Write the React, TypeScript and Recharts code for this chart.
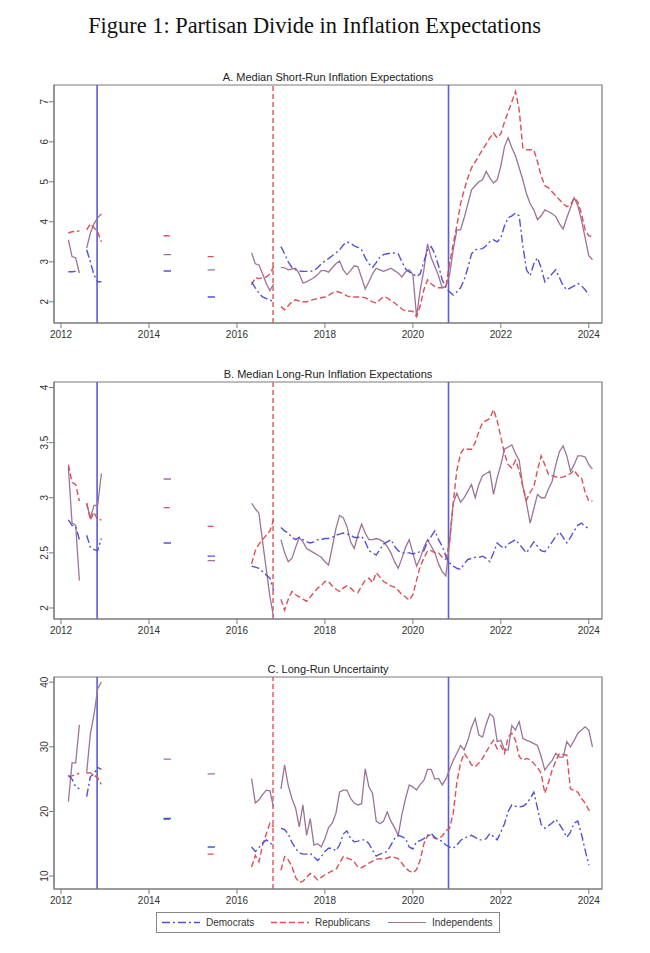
import React from 'react';
import { LineChart, Line, XAxis, YAxis, ReferenceLine, ReferenceArea } from 'recharts';

// ---------- time grids (decimal years) ----------
const T_2012 = [2012.167, 2012.25, 2012.333, 2012.417, 2012.5, 2012.583, 2012.667, 2012.75, 2012.833, 2012.917];
const T_2014 = [2014.333, 2014.5];
const T_2015 = [2015.333, 2015.5];
const T_2016 = [2016.333, 2016.417, 2016.5, 2016.583, 2016.667, 2016.75, 2016.833];
const T_MAIN = Array.from({ length: 86 }, (_, i) => 2017 + i / 12); // Jan 2017 .. Feb 2024

const X_TICKS = [2012, 2014, 2016, 2018, 2020, 2022, 2024];
const ELECTIONS = [2012.82, 2016.82, 2020.81];

// ---------- Panel A: median short-run expectations ----------
const A_DEM = {
  s2012: [2.75, 2.75, 2.76, null, null, 3.3, 3.0, 2.67, 2.5, 2.5],
  s2014: [2.77, 2.77],
  s2015: [2.12, 2.12],
  s2016: [2.5, 2.35, 2.22, 2.12, 2.08, 2.04, 2.01],
  main: [
    3.38, 3.2, 3.0, 2.86, 2.8, 2.77, 2.76, 2.76, 2.76, 2.78,
    2.85, 2.95, 3.02, 3.08, 3.15, 3.22, 3.3, 3.42, 3.5, 3.46,
    3.4, 3.36, 3.3, 3.1, 2.95, 2.86, 2.98, 3.12, 3.18, 3.2,
    3.22, 3.22, 3.2, 3.0, 2.82, 2.75, 2.7, 2.63, 2.7, 3.0,
    3.3, 3.38, 3.2, 2.9, 2.55, 2.35, 2.25, 2.17, 2.25, 2.35,
    2.55, 2.85, 3.2, 3.3, 3.32, 3.33, 3.4, 3.5, 3.55, 3.5,
    3.6, 3.9, 4.1, 4.15, 4.22, 4.15, 3.4, 2.8, 2.65, 2.95,
    3.1, 2.85, 2.5, 2.6, 2.7, 2.8, 2.6, 2.4, 2.3, 2.35,
    2.4, 2.46, 2.4, 2.3, 2.17, null,
  ],
};
const A_REP = {
  s2012: [3.72, 3.75, 3.76, 3.77, null, 3.8, 3.95, 3.85, 3.75, 3.5],
  s2014: [3.65, 3.65],
  s2015: [3.13, 3.13],
  s2016: [2.42, 2.6, 2.58, 2.6, 2.62, 2.7, 2.88],
  main: [
    1.88, 1.8, 1.9, 2.0, 2.05, 2.02, 2.0, 2.0, 2.03, 2.06,
    2.08, 2.1, 2.12, 2.16, 2.22, 2.26, 2.24, 2.2, 2.15, 2.12,
    2.12, 2.12, 2.12, 2.1, 2.05, 2.0, 1.97, 2.05, 2.13, 2.1,
    2.03, 1.97, 1.9, 1.82, 1.77, 1.77, 1.76, 1.63, 1.9, 2.3,
    2.55, 2.45, 2.38, 2.35, 2.35, 2.38, 2.95, 3.45, 3.9, 4.45,
    4.8, 5.1, 5.35, 5.5, 5.65, 5.8, 5.95, 6.1, 6.22, 6.1,
    6.2, 6.5, 6.75, 7.0, 7.26, 6.8, 5.85, 5.8, 5.8, 5.8,
    5.5, 5.15, 4.9, 4.85, 4.75, 4.65, 4.55, 4.45, 4.38, 4.42,
    4.6, 4.5, 4.2, 3.8, 3.65, 3.63,
  ],
};
const A_IND = {
  s2012: [3.55, 3.13, 3.1, 2.72, null, 3.34, 3.72, 3.95, 4.1, 4.2],
  s2014: [3.18, 3.18],
  s2015: [2.8, 2.8],
  s2016: [3.22, 2.95, 2.92, 2.7, 2.45, 2.28, 2.45],
  main: [
    2.86, 2.85, 2.8, 2.82, 2.84, 2.7, 2.47, 2.5, 2.55, 2.6,
    2.68, 2.78, 2.78, 2.74, 2.85, 2.95, 3.02, 2.8, 2.68, 2.78,
    2.9, 2.88, 2.6, 2.32, 2.5, 2.7, 2.84, 2.8, 2.76, 2.8,
    2.84, 2.78, 2.72, 2.62, 2.75, 2.8, 2.68, 1.63, 2.3, 2.8,
    3.45, 3.1, 2.88, 2.65, 2.35, 2.38, 2.68, 3.3, 3.8, 3.8,
    4.1, 4.45, 4.8, 4.9, 5.0, 5.05, 5.26, 5.1, 4.97, 5.05,
    5.4, 5.88, 6.1, 5.85, 5.65, 5.35, 5.05, 4.7, 4.45, 4.3,
    4.05, 4.15, 4.3, 4.25, 4.2, 4.13, 3.95, 3.82, 4.1, 4.35,
    4.6, 4.4, 4.05, 3.6, 3.15, 3.05,
  ],
};

// ---------- Panel B: median long-run expectations ----------
const B_DEM = {
  s2012: [2.8, 2.75, 2.74, 2.62, null, 2.66, 2.55, 2.53, 2.52, 2.63],
  s2014: [2.59, 2.59],
  s2015: [2.47, 2.47],
  s2016: [2.38, 2.37, 2.36, 2.33, 2.3, 2.27, 2.16],
  main: [
    2.73, 2.7, 2.68, 2.64, 2.62, 2.64, 2.62, 2.6, 2.59, 2.6,
    2.62, 2.62, 2.63, 2.63, 2.64, 2.66, 2.67, 2.68, 2.67, 2.66,
    2.64, 2.64, 2.65, 2.6, 2.52, 2.5, 2.48, 2.53, 2.58, 2.6,
    2.62, 2.56, 2.52, 2.5, 2.5, 2.5, 2.49, 2.5, 2.51, 2.52,
    2.6, 2.65, 2.7, 2.62, 2.56, 2.47, 2.41, 2.38, 2.36, 2.35,
    2.4, 2.44, 2.45, 2.46, 2.46, 2.47, 2.45, 2.42, 2.5, 2.59,
    2.56, 2.54, 2.58, 2.6, 2.62, 2.58, 2.54, 2.5, 2.55, 2.6,
    2.56, 2.52, 2.51, 2.55, 2.6, 2.65, 2.69, 2.64, 2.59, 2.64,
    2.7, 2.75, 2.77, 2.74, 2.72, null,
  ],
};
const B_REP = {
  s2012: [3.3, 3.14, 3.12, 2.97, null, 2.95, 2.8, 2.87, 2.8, 2.8],
  s2014: [2.91, 2.91],
  s2015: [2.74, 2.74],
  s2016: [2.4, 2.52, 2.58, 2.62, 2.66, 2.7, 2.8],
  main: [
    2.08, 1.98, 2.08, 2.15, 2.12, 2.1, 2.08, 2.06, 2.1, 2.14,
    2.18, 2.2, 2.24, 2.24, 2.2, 2.17, 2.15, 2.18, 2.2, 2.18,
    2.15, 2.14, 2.2, 2.25, 2.27, 2.23, 2.32, 2.28, 2.24, 2.22,
    2.2, 2.19, 2.16, 2.12, 2.1, 2.07, 2.12, 2.25, 2.38, 2.45,
    2.52, 2.52, 2.5, 2.5, 2.46, 2.44, 2.6, 2.95, 3.25, 3.4,
    3.45, 3.44, 3.44, 3.5, 3.6, 3.68, 3.7, 3.72, 3.8, 3.7,
    3.55, 3.4, 3.3, 3.27, 3.34, 3.25, 3.1, 2.98, 3.05, 3.1,
    3.25, 3.38, 3.3, 3.21, 3.2, 3.19, 3.18, 3.19, 3.2, 3.22,
    3.25, 3.2, 3.18, 3.05, 2.97, 2.97,
  ],
};
const B_IND = {
  s2012: [3.28, 2.77, 2.75, 2.25, null, 2.95, 2.82, 2.93, 2.93, 3.22],
  s2014: [3.17, 3.17],
  s2015: [2.43, 2.43],
  s2016: [2.95, 2.9, 2.86, 2.6, 2.35, 2.1, 1.92],
  main: [
    2.62, 2.5, 2.42, 2.45, 2.55, 2.64, 2.6, 2.54, 2.52, 2.5,
    2.48, 2.46, 2.42, 2.39, 2.55, 2.72, 2.84, 2.82, 2.74, 2.6,
    2.54, 2.66, 2.76, 2.68, 2.62, 2.62, 2.63, 2.62, 2.6, 2.56,
    2.5, 2.42, 2.36, 2.45, 2.55, 2.62, 2.5, 2.38, 2.45, 2.55,
    2.62, 2.56, 2.5, 2.4, 2.33, 2.29, 2.6, 2.95, 3.04, 2.96,
    3.0, 3.06, 3.12, 3.0, 3.12, 3.2, 3.22, 3.24, 3.03, 3.18,
    3.3, 3.44, 3.46, 3.48, 3.4, 3.34, 3.1, 2.95, 2.77, 2.9,
    3.03, 3.0, 3.0, 3.08, 3.15, 3.3, 3.42, 3.47, 3.38, 3.24,
    3.3, 3.38, 3.38, 3.37, 3.3, 3.26,
  ],
};

// ---------- Panel C: long-run uncertainty ----------
const C_DEM = {
  s2012: [25.6, 25.0, 23.8, 23.5, null, 22.3, 25.4, 25.8, 26.8, 26.5],
  s2014: [18.9, 18.9],
  s2015: [14.5, 14.5],
  s2016: [14.5, 13.8, 14.4, 15.1, 15.6, 15.2, 14.6],
  main: [
    17.4, 17.2, 16.5, 15.2, 14.3, 13.6, 13.4, 13.4, 13.5, 13.0,
    12.4, 13.0, 13.8, 14.3, 14.3, 13.9, 14.8, 16.5, 17.0, 15.8,
    15.3, 15.4, 15.6, 15.6, 15.0, 14.0, 13.1, 13.4, 13.6, 13.8,
    14.8, 15.8, 16.3, 16.1, 15.8, 14.5, 14.2, 15.3, 15.5, 15.8,
    16.3, 16.6, 16.0, 15.6, 15.4, 14.8, 14.5, 14.3, 14.8, 15.5,
    15.9, 16.1, 16.3, 16.0, 15.6, 15.6, 15.8, 16.6, 16.1, 15.6,
    16.8, 18.1, 20.0, 21.0, 20.8, 20.7, 20.8, 21.2, 22.0, 23.0,
    20.5, 18.0, 17.4, 17.8, 18.2, 18.8, 18.0, 17.1, 16.0, 16.8,
    18.2, 18.5, 16.5, 14.0, 11.7, null,
  ],
};
const C_REP = {
  s2012: [25.3, 25.5, 25.7, 25.9, null, 25.9, 26.0, 25.6, 25.2, 24.2],
  s2014: [18.8, 18.8],
  s2015: [13.4, 13.4],
  s2016: [11.4, 13.2, 12.2, 14.8, 16.5, 18.2, 17.6],
  main: [
    10.9, 13.0, 12.5, 11.5, 9.8, 9.0, 9.2, 9.8, 10.4, 10.0,
    9.4, 9.8, 10.2, 10.5, 10.8, 11.0, 12.0, 13.0, 12.8, 12.6,
    12.2, 11.4, 11.3, 11.6, 12.0, 12.3, 12.6, 12.7, 12.6, 12.8,
    13.0, 12.9, 12.7, 12.0, 11.2, 10.8, 10.5, 11.0, 12.5, 15.0,
    16.2, 16.4, 15.8, 15.8, 16.2, 17.0, 17.4, 19.7, 24.5, 27.5,
    29.0, 28.2, 27.2, 26.9, 27.5, 28.2, 29.2, 30.2, 31.0, 29.7,
    30.2, 29.0, 31.5, 32.1, 31.0, 28.5, 27.9, 28.2, 28.0, 27.4,
    26.8, 25.9, 22.8, 24.5, 26.4, 27.8, 29.0, 28.8, 28.7, 23.5,
    23.2, 23.0, 22.0, 21.3, 20.2, 20.2,
  ],
};
const C_IND = {
  s2012: [21.5, 27.5, 27.5, 33.4, null, 26.0, 32.0, 35.0, 39.0, 40.0],
  s2014: [28.1, 28.1],
  s2015: [25.8, 25.8],
  s2016: [25.1, 21.3, 21.8, 22.6, 23.3, 23.2, 20.6],
  main: [
    23.5, 27.2, 24.0, 22.0, 20.5, 17.6, 21.0, 16.3, 18.9, 14.8,
    15.0, 14.5, 15.8, 17.5, 18.2, 19.7, 23.0, 23.3, 23.3, 22.0,
    21.3, 21.0, 21.2, 26.6, 23.8, 22.8, 18.5, 18.1, 18.5, 19.9,
    18.5, 17.5, 16.3, 19.5, 22.0, 24.1, 23.8, 23.3, 24.2, 24.8,
    26.5, 26.5, 25.0, 25.1, 24.1, 25.0, 26.5, 27.9, 29.0, 30.2,
    29.5, 31.0, 33.0, 34.4, 31.8, 31.5, 33.5, 35.1, 34.6, 30.8,
    31.0, 29.5, 29.5, 33.3, 32.6, 33.9, 31.3, 31.0, 30.8, 30.5,
    30.2, 28.5, 26.4, 27.2, 27.9, 29.0, 28.4, 28.4, 30.8, 30.0,
    31.0, 32.1, 32.6, 33.1, 32.6, 30.0,
  ],
};

// ---------- build the table the chart needs ----------
const SEGMENT_TIMES: Record<string, number[]> = { s2012: T_2012, s2014: T_2014, s2015: T_2015, s2016: T_2016, main: T_MAIN };
const SEG_KEYS = ['s2012', 's2014', 's2015', 's2016', 'main'];
const SERIES: Record<string, Record<string, (number | null)[]>> = {
  aDem: A_DEM, aRep: A_REP, aInd: A_IND,
  bDem: B_DEM, bRep: B_REP, bInd: B_IND,
  cDem: C_DEM, cRep: C_REP, cInd: C_IND,
};

const ROWS: any[] = [];
SEG_KEYS.forEach((k) => {
  const ts = SEGMENT_TIMES[k];
  ts.forEach((t, i) => {
    const row: any = { t };
    Object.keys(SERIES).forEach((name) => {
      const v = SERIES[name][k][i];
      row[name] = v === undefined ? null : v;
    });
    ROWS.push(row);
  });
  const gap: any = { t: ts[ts.length - 1] + 0.02 };
  Object.keys(SERIES).forEach((name) => (gap[name] = null));
  ROWS.push(gap);
});

// ---------- styles ----------
const SANS = 'Liberation Sans, Arial, sans-serif';
const DEM_COLOR = '#5252d8';
const REP_COLOR = '#dd5055';
const IND_COLOR = '#9d7398';
const FRAME = '#7a7a7a';
const X_DOMAIN: [number, number] = [2011.84, 2024.3];

function YTick(props: any) {
  const { x, y, payload } = props;
  const bx = x + 1.5;
  return (
    <text x={bx} y={y} transform={`rotate(-90 ${bx} ${y})`} textAnchor="middle" fontSize={10} fill="#333" fontFamily={SANS}>
      {payload.value}
    </text>
  );
}

type PanelProps = {
  top: number;
  height: number;
  marginTop: number;
  marginBottom: number;
  yDomain: [number, number];
  yTicks: number[];
  keys: [string, string, string];
  title: string;
  titleY: number;
};

function Panel({ top, height, marginTop, marginBottom, yDomain, yTicks, keys, title, titleY }: PanelProps) {
  return (
    <div style={{ position: 'absolute', left: 0, top, width: 650, height }}>
      <div
        style={{
          position: 'absolute', left: 54, width: 548, top: titleY - top - 7, height: 14, lineHeight: '14px',
          textAlign: 'center', fontFamily: SANS, fontSize: 11, color: '#222',
        }}
      >
        {title}
      </div>
      <LineChart width={650} height={height} data={ROWS} margin={{ top: marginTop, right: 48, bottom: marginBottom, left: 24 }}>
        <XAxis
          dataKey="t" type="number" domain={X_DOMAIN} ticks={X_TICKS} allowDataOverflow
          height={20} tickSize={5} tickMargin={3} stroke={FRAME}
          tick={{ fontSize: 10, fill: '#333', fontFamily: SANS }}
        />
        <YAxis
          type="number" domain={yDomain} ticks={yTicks} allowDataOverflow width={30}
          tickSize={5} tickMargin={2} stroke={FRAME} tick={<YTick />}
        />
        <ReferenceArea x1={X_DOMAIN[0]} x2={X_DOMAIN[1]} y1={yDomain[0]} y2={yDomain[1]} fill="none" stroke={FRAME} strokeWidth={1.2} />
        <ReferenceLine x={ELECTIONS[0]} stroke="#5b5bd8" strokeWidth={1.6} />
        <ReferenceLine x={ELECTIONS[1]} stroke="#e05656" strokeWidth={1.4} strokeDasharray="5 3" />
        <ReferenceLine x={ELECTIONS[2]} stroke="#5b5bd8" strokeWidth={1.6} />
        <Line dataKey={keys[2]} stroke={IND_COLOR} strokeWidth={1.3} dot={false} isAnimationActive={false} type="linear" />
        <Line dataKey={keys[1]} stroke={REP_COLOR} strokeWidth={1.4} strokeDasharray="6 3" dot={false} isAnimationActive={false} type="linear" />
        <Line dataKey={keys[0]} stroke={DEM_COLOR} strokeWidth={1.4} strokeDasharray="8 3 2 3" dot={false} isAnimationActive={false} type="linear" />
      </LineChart>
    </div>
  );
}

function LegendBox() {
  return (
    <svg style={{ position: 'absolute', left: 156, top: 912 }} width={344} height={21}>
      <rect x={0.5} y={0.5} width={343} height={20} fill="#fff" stroke="#888" strokeWidth={1} />
      <line x1={6} x2={44} y1={10.5} y2={10.5} stroke={DEM_COLOR} strokeWidth={1.3} strokeDasharray="8 3 2 3" />
      <text x={50} y={14} fontSize={10} fill="#333" fontFamily={SANS}>Democrats</text>
      <line x1={115} x2={153} y1={10.5} y2={10.5} stroke={REP_COLOR} strokeWidth={1.3} strokeDasharray="6 3" />
      <text x={159} y={14} fontSize={10} fill="#333" fontFamily={SANS}>Republicans</text>
      <line x1={232} x2={270} y1={10.5} y2={10.5} stroke={IND_COLOR} strokeWidth={1.2} />
      <text x={276} y={14} fontSize={10} fill="#333" fontFamily={SANS}>Independents</text>
    </svg>
  );
}

export default function App() {
  return (
    <div style={{ position: 'absolute', left: 0, top: 0, width: 650, height: 953, background: '#fff', overflow: 'hidden' }}>
      <div
        style={{
          position: 'absolute', left: 0, width: 629, top: 13, height: 26, lineHeight: '26px', textAlign: 'center',
          fontFamily: 'Liberation Serif, Times New Roman, serif', fontSize: 22.4, color: '#111',
        }}
      >
        Figure 1: Partisan Divide in Inflation Expectations
      </div>
      <Panel
        top={0} height={350} marginTop={85} marginBottom={7}
        yDomain={[1.47, 7.42]} yTicks={[2, 3, 4, 5, 6, 7]}
        keys={['aDem', 'aRep', 'aInd']} title="A. Median Short-Run Inflation Expectations" titleY={77}
      />
      <Panel
        top={350} height={290} marginTop={32} marginBottom={1}
        yDomain={[1.9, 4.05]} yTicks={[2, 2.5, 3, 3.5, 4]}
        keys={['bDem', 'bRep', 'bInd']} title="B. Median Long-Run Inflation Expectations" titleY={374}
      />
      <Panel
        top={640} height={313} marginTop={37} marginBottom={44}
        yDomain={[8.0, 40.8]} yTicks={[10, 20, 30, 40]}
        keys={['cDem', 'cRep', 'cInd']} title="C. Long-Run Uncertainty" titleY={669}
      />
      <LegendBox />
    </div>
  );
}
